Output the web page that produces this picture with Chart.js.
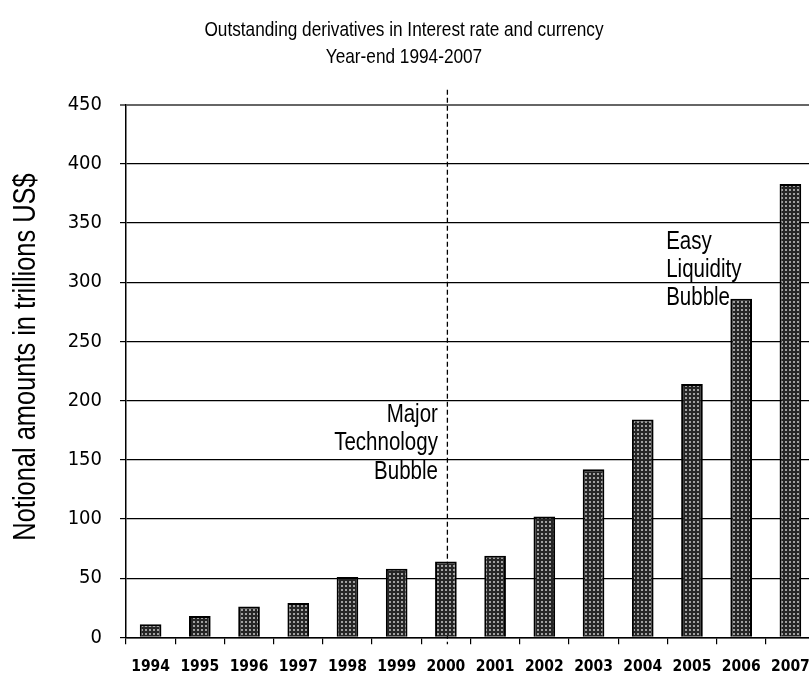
<!DOCTYPE html>
<html>
<head>
<meta charset="utf-8">
<script src="https://cdn.jsdelivr.net/npm/chart.js@4"></script>
<style>
  html, body { margin: 0; padding: 0; background: #fff; overflow: hidden; }
  #wrap { width: 830px; height: 679px; }
</style>
</head>
<body>
<div id="wrap"><canvas id="derivChart"></canvas></div>
<script>
const years = ['1994', '1995', '1996', '1997', '1998', '1999', '2000', '2001', '2002', '2003', '2004', '2005', '2006', '2007'];
const notional = [11, 18, 26, 29, 51, 58, 64, 69, 102, 142, 184, 214, 286, 383];
const yMax = 450;
const yStep = 50;
const titleLines = ['Outstanding derivatives in Interest rate and currency', 'Year-end 1994-2007'];
const yTitle = 'Notional amounts in trillions US$';
const techNote = ['Major', 'Technology', 'Bubble'];
const liquidityNote = ['Easy', 'Liquidity', 'Bubble'];

const CONDENSED = "'DejaVu Sans Condensed', 'Liberation Sans', sans-serif";
const ARIAL = "'Liberation Sans', Arial, sans-serif";

// dotted dark fill like the old excel pattern
function dotPattern() {
  const c = document.createElement('canvas');
  c.width = 4; c.height = 4;
  const g = c.getContext('2d');
  g.fillStyle = '#262626';
  g.fillRect(0, 0, 4, 4);
  g.fillStyle = '#a0a0a0';
  g.fillRect(1, 1, 2, 2);
  return g.createPattern(c, 'repeat');
}

// no narrow font installed, so squeeze Liberation Sans sideways
function narrowText(ctx, text, x, y, align) {
  ctx.save();
  ctx.translate(x, y);
  ctx.scale(0.82, 1);
  ctx.textAlign = align;
  ctx.fillText(text, 0, 0);
  ctx.restore();
}

// dashed marker line at 2000, titles and the two notes
const extras = {
  id: 'extras',
  beforeDatasetsDraw(chart) {
    const { ctx, chartArea, scales } = chart;
    const x = scales.x.getPixelForValue(6) + 1.5;
    ctx.save();
    ctx.strokeStyle = '#000';
    ctx.lineWidth = 1.3;
    ctx.setLineDash([5, 3]);
    ctx.beginPath();
    ctx.moveTo(x, chartArea.top - 15);
    ctx.lineTo(x, chartArea.bottom + 7);
    ctx.stroke();
    ctx.restore();
  },
  afterDatasetsDraw(chart) {
    const { ctx, scales } = chart;
    ctx.save();
    ctx.fillStyle = '#000';
    ctx.textBaseline = 'middle';

    ctx.font = '21px ' + ARIAL;
    narrowText(ctx, titleLines[0], 404, 30, 'center');
    narrowText(ctx, titleLines[1], 404, 57, 'center');

    ctx.font = '25px ' + ARIAL;
    let tx = scales.x.getPixelForValue(6) - 8;
    let ty = scales.y.getPixelForValue(188);
    techNote.forEach((t, i) => narrowText(ctx, t, tx, ty + i * 28.5, 'right'));

    tx = scales.x.getPixelForValue(12) - 75;
    ty = scales.y.getPixelForValue(334);
    liquidityNote.forEach((t, i) => narrowText(ctx, t, tx, ty + i * 28.3, 'left'));

    ctx.translate(26, 357);
    ctx.rotate(-Math.PI / 2);
    ctx.font = '31px ' + ARIAL;
    narrowText(ctx, yTitle, 0, 0, 'center');
    ctx.restore();
  }
};

const derivChart = new Chart(document.getElementById('derivChart'), {
  type: 'bar',
  data: {
    labels: years,
    datasets: [{
      data: notional,
      backgroundColor: dotPattern(),
      borderColor: '#000',
      borderWidth: 2,
      barPercentage: 0.44,
      categoryPercentage: 1
    }]
  },
  options: {
    responsive: true,
    maintainAspectRatio: false,
    animation: false,
    layout: { padding: { left: 0, right: 15, top: 104.7, bottom: 0 } },
    plugins: {
      legend: { display: false },
      tooltip: { enabled: false },
      title: { display: false }
    },
    scales: {
      x: {
        afterFit(scale) { scale.height = 41.7; },
        grid: {
          offset: true,
          drawOnChartArea: false,
          color: '#000',
          tickLength: 7,
          lineWidth: 1.2
        },
        border: { color: '#000', width: 1.5 },
        ticks: {
          color: '#000',
          padding: 13,
          maxRotation: 0,
          font: { family: CONDENSED, size: 15.5, weight: 'bold' }
        }
      },
      y: {
        min: 0,
        max: yMax,
        afterFit(scale) { scale.width = 126; },
        grid: {
          color: ctx => (ctx.tick && ctx.tick.value === yMax ? '#666' : '#000'),
          lineWidth: ctx => (ctx.tick && ctx.tick.value === yMax ? 2 : 1.2),
          tickLength: 6
        },
        border: { color: '#000', width: 1.5 },
        ticks: {
          stepSize: yStep,
          color: '#000',
          padding: 18,
          font: { family: CONDENSED, size: 20 }
        }
      }
    }
  },
  plugins: [extras]
});
</script>
</body>
</html>
